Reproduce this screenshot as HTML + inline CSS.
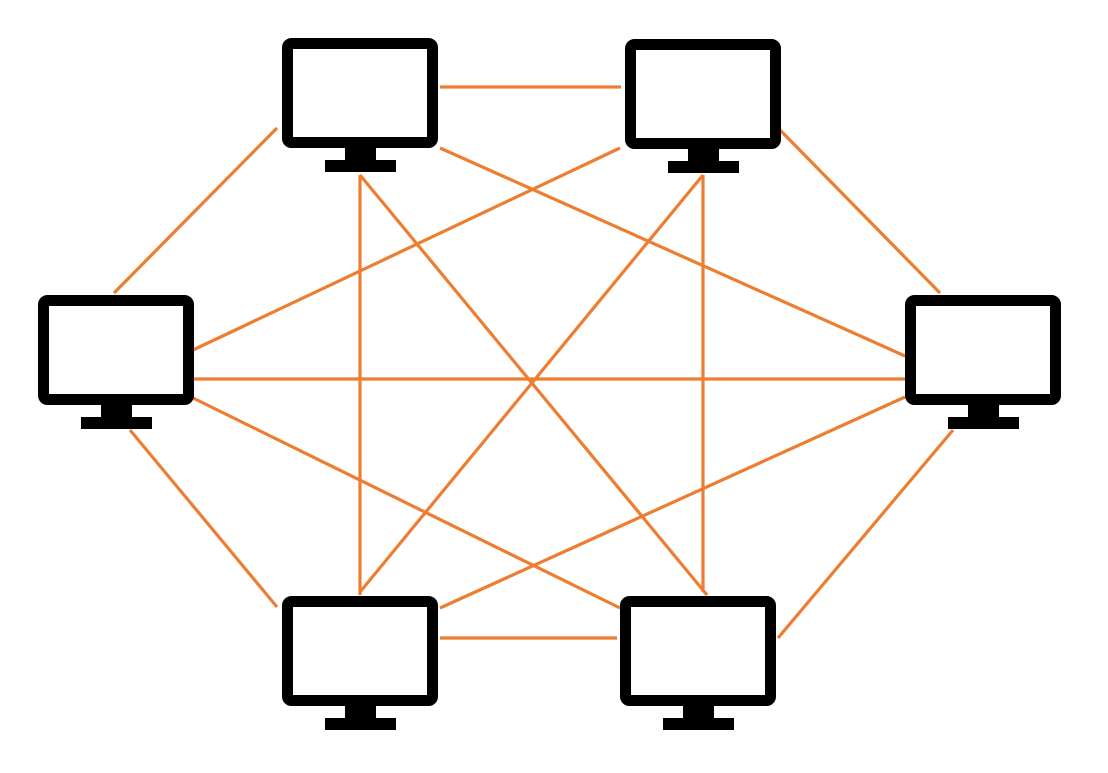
<!DOCTYPE html>
<html><head><meta charset="utf-8"><style>html,body{margin:0;padding:0;background:#fff;}</style></head>
<body>
<svg width="1108" height="768" viewBox="0 0 1108 768" xmlns="http://www.w3.org/2000/svg">
<defs>
<g id="m">
<rect x="5.5" y="5.5" width="145" height="99" rx="4" fill="#fff" stroke="#000" stroke-width="11"/>
<rect x="63" y="109" width="31" height="13" fill="#000"/>
<rect x="43" y="122" width="71" height="12" fill="#000"/>
</g>
</defs>
<g stroke="#ED7D31" stroke-width="3.2" fill="none">
<line x1="440" y1="87" x2="621" y2="87"/>
<line x1="277" y1="128" x2="114" y2="293"/>
<line x1="780" y1="130" x2="940" y2="293"/>
<line x1="130" y1="430" x2="277" y2="607"/>
<line x1="953" y1="430" x2="778" y2="638"/>
<line x1="440" y1="638" x2="617" y2="638"/>
<line x1="193" y1="379" x2="905" y2="379"/>
<line x1="360" y1="175" x2="360" y2="595"/>
<line x1="703" y1="175" x2="703" y2="592"/>
<line x1="360" y1="175" x2="707" y2="595"/>
<line x1="703" y1="175" x2="360" y2="592"/>
<line x1="440" y1="148" x2="905" y2="356"/>
<line x1="620" y1="148" x2="193" y2="350"/>
<line x1="193" y1="398" x2="620" y2="608"/>
<line x1="905" y1="397" x2="440" y2="608"/>
</g>
<use href="#m" x="282" y="38"/>
<use href="#m" x="625" y="39"/>
<use href="#m" x="38" y="295"/>
<use href="#m" x="905" y="295"/>
<use href="#m" x="282" y="596"/>
<use href="#m" x="620" y="596"/>
</svg>
</body></html>
